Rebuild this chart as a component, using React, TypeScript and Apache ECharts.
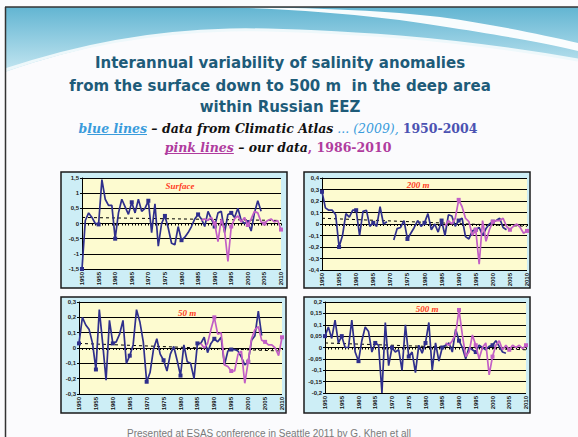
import React, { useEffect, useRef } from 'react';
import * as echarts from 'echarts';

// ---------- data ----------
const years = [
  '1950','1951','1952','1953','1954','1955','1956','1957','1958','1959',
  '1960','1961','1962','1963','1964','1965','1966','1967','1968','1969',
  '1970','1971','1972','1973','1974','1975','1976','1977','1978','1979',
  '1980','1981','1982','1983','1984','1985','1986','1987','1988','1989',
  '1990','1991','1992','1993','1994','1995','1996','1997','1998','1999',
  '2000','2001','2002','2003','2004','2005','2006','2007','2008','2009','2010',
];
// blue lines: Climatic Atlas 1950-2004
const surfaceBlue = [
  -1.5, 0.1, 0.35, 0.2, 0.0, -0.03, 1.45, 0.8, 0.6, 0.6,
  -0.5, 0.35, 0.8, 0.55, 0.3, 0.7, 0.35, 0.8, 0.4, 0.5,
  0.75, -0.3, 0.65, -0.75, 0.0, 0.25, -0.15, -0.65, -0.7, -0.1,
  -0.55, -0.45, -0.3, -0.1, 0.15, 0.3, 0.15, -0.1, 0.4, 0.15,
  -0.1, 0.35, 0.4, -0.3, 0.3, 0.35, 0.2, 0.5, 0.1, 0.0,
  0.05, -0.25, 0.35, 0.75, 0.4,
];
const m200Blue = [
  0.28, 0.14, 0.12, 0.12, 0.08, -0.2, -0.1, 0.09, 0.06, 0.12,
  0.12, -0.1, 0.11, 0.12, -0.02, 0.01, -0.02, 0.15, 0.0, 0.02,
  null, -0.14, -0.04, -0.03, 0.03, -0.13, -0.08, -0.03, 0.03, -0.02,
  0.01, 0.09, -0.05, 0.0, -0.07, 0.03, -0.1, 0.08, 0.07, -0.02,
  0.03, 0.05, -0.11, -0.13, -0.06, -0.05, -0.03, -0.1, -0.04, 0.0,
  0.02, 0.03, 0.05, -0.03, -0.05,
];
const m50Blue = [
  0.03, 0.2, 0.15, 0.12, 0.03, -0.14, 0.25, 0.03, -0.21, 0.18,
  0.03, 0.04, 0.09, 0.18, -0.1, -0.05, 0.02, 0.25, 0.17, 0.04,
  -0.22, -0.16, -0.01, 0.06, -0.04, -0.08, -0.15, -0.04, 0.01, -0.08,
  -0.18, 0.02, -0.09, -0.1, -0.2, 0.03, 0.03, 0.07, -0.03, 0.03,
  0.06, 0.04, 0.07, -0.11, -0.02, -0.01, -0.01, -0.02, -0.06, -0.11,
  -0.09, 0.05, 0.08, 0.24, 0.08,
];
const m500Blue = [
  0.05, 0.09, 0.04, 0.12, 0.02, 0.05, 0.0, 0.0, 0.12, -0.02,
  -0.06, 0.03, 0.09, 0.07, -0.02, 0.02, 0.01, -0.2, 0.11, -0.08,
  0.0, -0.02, -0.01, -0.1, 0.1, -0.04, -0.02, -0.11, 0.01, -0.025,
  0.02, 0.11, -0.1, 0.02, -0.06, 0.0, 0.01, 0.02, -0.02, 0.08,
  0.03, 0.0, -0.05, 0.0, -0.01, -0.02, 0.01, 0.0, -0.01, 0.005,
  0.01, 0.03, 0.005, -0.02, -0.025,
];
// pink lines: our data 1986-2010
const pinkYears = [
  '1986','1987','1988','1989','1990','1991','1992','1993','1994','1995',
  '1996','1997','1998','1999','2000','2001','2002','2003','2004','2005',
  '2006','2007','2008','2009','2010',
];
const surfacePink = [
  0.1, 0.15, 0.1, 0.2, 0.0, -0.6, 0.15, -0.25, -1.25, -0.1,
  0.15, 0.25, 0.05, 0.2, -0.05, 0.15, 0.4, 0.35, 0.05, 0.0,
  0.1, 0.15, 0.05, 0.1, -0.2,
];
const m200Pink = [
  -0.02, 0.03, 0.0, 0.05, 0.21, 0.15, 0.05, 0.02, -0.1, -0.05,
  -0.35, 0.03, -0.15, -0.05, 0.02, 0.03, 0.03, 0.05, -0.02, -0.05,
  -0.02, 0.0, -0.03, -0.08, -0.06,
];
const m50Pink = [
  0.03, 0.0, 0.03, 0.12, 0.2, 0.09, 0.1, -0.11, -0.12, -0.15,
  -0.15, -0.04, -0.02, -0.23, -0.09, 0.06, 0.12, 0.14, 0.05, 0.04,
  0.02, 0.02, 0.0, -0.05, 0.07,
];
const m500Pink = [
  0.02, 0.01, 0.03, 0.06, 0.165, 0.055, -0.04, -0.02, 0.055, 0.01,
  -0.05, 0.0, 0.02, -0.12, -0.04, 0.01, 0.03, -0.01, 0.01, -0.01,
  0.01, 0.0, 0.01, -0.005, 0.01,
];
// dashed linear trends (start, end)
const trendYears = ['1950', '2010'];
const surfaceTrend = [0.2, 0.1];
const m200Trend = [0.05, -0.02];
const m50Trend = [0.03, -0.02];
const m500Trend = [0.02, -0.01];
// y-axis ranges: [min, max, interval]
const surfaceAxis = [-1.5, 1.5, 0.5];
const m200Axis = [-0.4, 0.4, 0.1];
const m50Axis = [-0.3, 0.3, 0.1];
const m500Axis = [-0.2, 0.2, 0.05];
const panelTitles = ['Surface', '200 m', '50 m', '500 m'];

const titleLines = [
  'Interannual variability of salinity anomalies',
  'from the surface down to 500 m  in the deep area',
  'within Russian EEZ',
];
const sub1 = ['b', 'lue lines', ' – data from Climatic Atlas', ' ... (2009), ', '1950-2004'];
const sub2 = ['pink lines', ' – our data', ', 1986-2010'];
const footerText = 'Presented at ESAS conference in Seattle 2011 by G. Khen et all';

// ---------- decorative shapes ----------
echarts.graphic.registerShape(
  'waveMain',
  echarts.graphic.extendPath(
    'M5,7 L578,7 L578,60 C520,50 460,42 400,37 C330,32 270,29 230,30 C150,32 80,46 5,72 Z',
    {}
  )
);
echarts.graphic.registerShape(
  'waveSwoosh',
  echarts.graphic.extendPath(
    'M215,7 C300,9 380,16 440,26 C500,35 545,43 578,51 L578,43 C540,34 490,24 440,17 C380,10 300,7 215,7 Z',
    {}
  )
);
echarts.graphic.registerShape(
  'waveEdge',
  echarts.graphic.extendPath(
    'M5,70 C80,45 150,32 230,30 C270,29 330,32 400,37 C460,42 520,50 578,60',
    {}
  )
);

const BLUE = '#2f2f8c';
const PINK = '#c25fc6';

const panels = [
  { blue: surfaceBlue, pink: surfacePink, trend: surfaceTrend, axis: surfaceAxis,
    grid: { left: 82, top: 178, width: 199, height: 91 }, frame: [61, 172, 226, 116], tpos: [180, 186] },
  { blue: m200Blue, pink: m200Pink, trend: m200Trend, axis: m200Axis,
    grid: { left: 322, top: 178, width: 205, height: 92 }, frame: [304, 172, 226, 116], tpos: [418, 185] },
  { blue: m50Blue, pink: m50Pink, trend: m50Trend, axis: m50Axis,
    grid: { left: 79, top: 302, width: 203, height: 92 }, frame: [61, 297, 225, 116], tpos: [187, 313] },
  { blue: m500Blue, pink: m500Pink, trend: m500Trend, axis: m500Axis,
    grid: { left: 325, top: 302, width: 201, height: 91 }, frame: [304, 297, 226, 116], tpos: [427, 309] },
];

const SUBFAMILY = 'DejaVu Serif';
const SUBSIZE = 12.5;

function measure(text: string, weight: string, style: string) {
  const c = document.createElement('canvas').getContext('2d');
  if (!c) return text.length * 7;
  c.font = `${style} ${weight} ${SUBSIZE}px "${SUBFAMILY}"`;
  return c.measureText(text).width;
}

export default function App() {
  const ref = useRef<HTMLDivElement>(null);
  useEffect(() => {
    if (!ref.current) return;
    const chart = echarts.init(ref.current, undefined, { renderer: 'svg' });

    const grids = panels.map((p) => ({ ...p.grid, show: false, containLabel: false }));
    const xAxes = panels.map((p, i) => ({
      type: 'category',
      gridIndex: i,
      data: years,
      boundaryGap: false,
      axisLine: { show: true, lineStyle: { color: '#000', width: 1 } },
      axisTick: { show: true, interval: 0, length: 2, lineStyle: { color: '#000', width: 1 } },
      axisLabel: {
        interval: 4, rotate: 90, fontSize: 6, fontWeight: 'bold', color: '#111', margin: 3,
        fontFamily: 'Liberation Sans',
      },
      splitLine: { show: false },
    }));
    const yAxes = panels.map((p, i) => ({
      type: 'value',
      gridIndex: i,
      min: p.axis[0],
      max: p.axis[1],
      interval: p.axis[2],
      axisLine: { show: true, lineStyle: { color: '#000', width: 1 } },
      axisTick: { show: true, length: 2, lineStyle: { color: '#000' } },
      axisLabel: {
        fontSize: 6, color: '#222', margin: 3, fontWeight: 'bold', fontFamily: 'Liberation Sans',
        formatter: (v: number) => String(Math.round(v * 1000) / 1000).replace('.', ','),
      },
      splitLine: { show: true, lineStyle: { color: '#000', width: 1 } },
    }));

    const series: any[] = [];
    panels.forEach((p, i) => {
      series.push({
        type: 'line', xAxisIndex: i, yAxisIndex: i,
        data: trendYears.map((y, k) => [y, p.trend[k]]),
        showSymbol: false, lineStyle: { color: '#000', width: 1, type: [3, 3] }, z: 2,
      });
      series.push({
        type: 'line', xAxisIndex: i, yAxisIndex: i,
        data: p.blue, connectNulls: false,
        symbol: 'rect', symbolSize: 4, showSymbol: true,
        itemStyle: { color: BLUE }, lineStyle: { color: BLUE, width: 1.7 }, z: 3,
      });
      series.push({
        type: 'line', xAxisIndex: i, yAxisIndex: i,
        data: pinkYears.map((y, k) => [y, p.pink[k]]),
        symbol: 'rect', symbolSize: 4, showSymbol: true,
        itemStyle: { color: PINK }, lineStyle: { color: PINK, width: 1.7 }, z: 4,
      });
    });

    const graphics: any[] = [
      { type: 'rect', z: -10, shape: { x: 0, y: 0, width: 578, height: 437 }, style: { fill: '#fbfbfd' } },
      {
        type: 'waveMain', z: -9, x: 0, y: 0,
        style: {
          fill: new echarts.graphic.LinearGradient(0, 0, 0, 1, [
            { offset: 0, color: '#62b5d2' },
            { offset: 1, color: '#c4e6f1' },
          ]),
        },
      },
      { type: 'waveSwoosh', z: -8, x: 0, y: 0, style: { fill: '#ffffff', opacity: 0.95 } },
      { type: 'waveEdge', z: -8, x: 0, y: 0, style: { fill: null, stroke: '#eef8fb', lineWidth: 3 } },
      { type: 'line', z: -7, shape: { x1: 5, y1: 7, x2: 578, y2: 7 }, style: { stroke: '#333', lineWidth: 1.5 } },
      { type: 'line', z: -7, shape: { x1: 5.5, y1: 7, x2: 5.5, y2: 437 }, style: { stroke: '#333', lineWidth: 1.5 } },
    ];
    panels.forEach((p, i) => {
      graphics.push({
        type: 'rect', z: -6,
        shape: { x: p.frame[0], y: p.frame[1], width: p.frame[2], height: p.frame[3] },
        style: { fill: '#cdeef6', stroke: '#1a1a1a', lineWidth: 1.5 },
      });
      graphics.push({
        type: 'rect', z: -5,
        shape: { x: p.grid.left, y: p.grid.top, width: p.grid.width, height: p.grid.height },
        style: { fill: '#fdfbd0' },
      });
      graphics.push({
        type: 'text', z: 10, x: p.tpos[0], y: p.tpos[1],
        style: {
          text: panelTitles[i], align: 'center', verticalAlign: 'middle',
          fill: '#ff3b1f', fontSize: 9, fontWeight: 'bold', fontStyle: 'italic',
          fontFamily: 'Liberation Serif',
        },
      });
    });
    const titleY = [63, 86, 107];
    titleLines.forEach((t, k) => {
      graphics.push({
        type: 'text', z: 10, x: 280, y: titleY[k],
        style: {
          text: t, align: 'center', verticalAlign: 'middle',
          fill: '#1e5b79', fontSize: 15, fontWeight: 'bold', fontFamily: 'DejaVu Sans',
        },
      });
    });

    // subtitle line 1, laid out piece by piece
    const styles1 = [
      { fill: '#3a9cdc', w: 'bold', s: 'italic' },
      { fill: '#3a9cdc', w: 'bold', s: 'italic' },
      { fill: '#111111', w: 'bold', s: 'italic' },
      { fill: '#3a9cdc', w: 'normal', s: 'italic' },
      { fill: '#4b52b2', w: 'bold', s: 'normal' },
    ];
    const styles2 = [
      { fill: '#b03c9e', w: 'bold', s: 'italic' },
      { fill: '#111111', w: 'bold', s: 'italic' },
      { fill: '#b03c9e', w: 'bold', s: 'normal' },
    ];
    const layLine = (parts: string[], st: any[], cx: number, cy: number, underline: number[]) => {
      const widths = parts.map((t, k) => measure(t, st[k].w, st[k].s));
      const total = widths.reduce((a, b) => a + b, 0);
      let x = cx - total / 2;
      parts.forEach((t, k) => {
        graphics.push({
          type: 'text', z: 10, x, y: cy,
          style: {
            text: t, align: 'left', verticalAlign: 'middle', fill: st[k].fill,
            fontFamily: SUBFAMILY, fontSize: SUBSIZE, fontWeight: st[k].w, fontStyle: st[k].s,
          },
        });
        if (underline.includes(k)) {
          graphics.push({
            type: 'line', z: 10,
            shape: { x1: x, y1: cy + 6.5, x2: x + widths[k], y2: cy + 6.5 },
            style: { stroke: st[k].fill, lineWidth: 1 },
          });
        }
        x += widths[k];
      });
    };
    layLine(sub1, styles1, 278, 128, [1]);
    layLine(sub2, styles2, 278, 147, [0]);

    graphics.push({
      type: 'text', z: 10, x: 269, y: 433,
      style: {
        text: footerText, align: 'center', verticalAlign: 'middle',
        fill: '#7a7a7a', fontSize: 10, fontFamily: 'Liberation Sans',
      },
    });

    chart.setOption({
      animation: false,
      grid: grids,
      xAxis: xAxes,
      yAxis: yAxes,
      series,
      graphic: { elements: graphics },
    });
    return () => chart.dispose();
  }, []);
  return (
    <div
      ref={ref}
      style={{ position: 'absolute', left: 0, top: 0, width: 578, height: 437 }}
    />
  );
}
